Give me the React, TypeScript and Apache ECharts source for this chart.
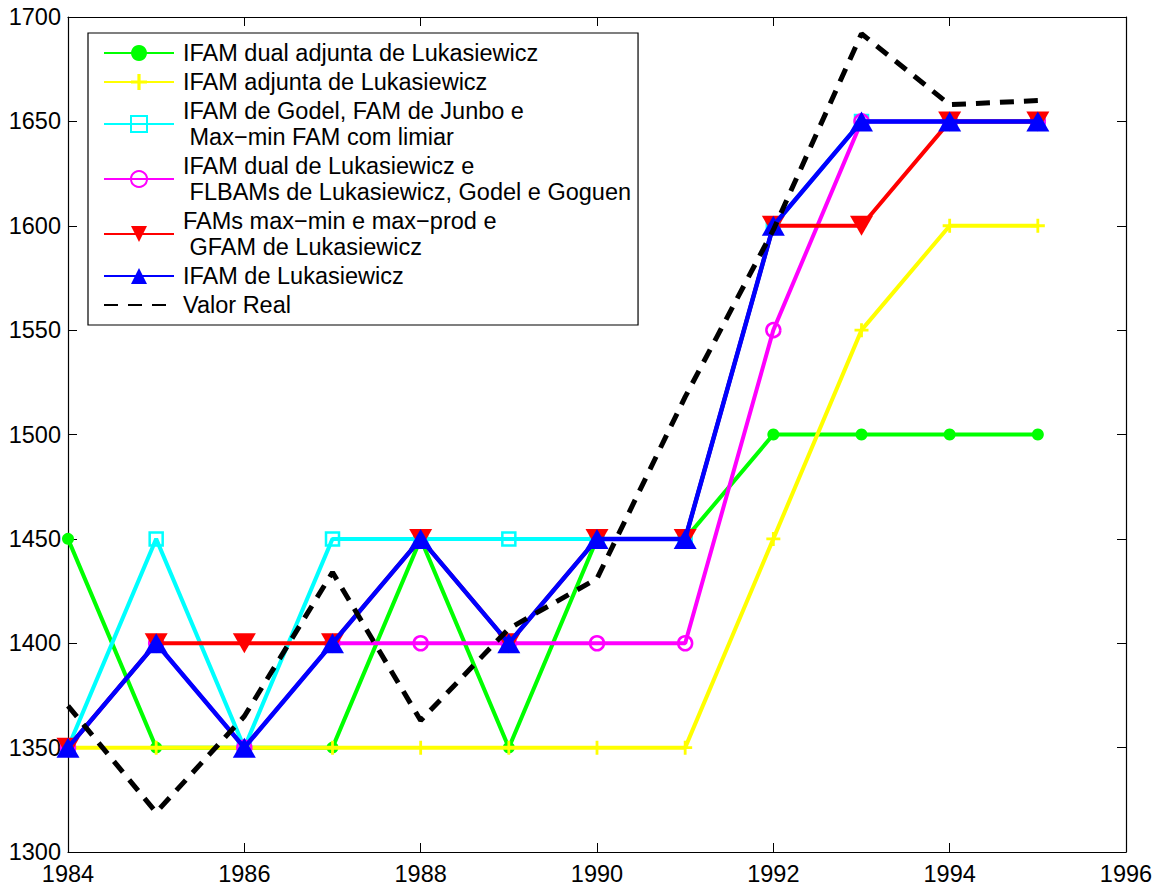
import React, { useEffect, useRef } from "react";
import * as echarts from "echarts";

// Years on the horizontal axis
const years = [1984, 1985, 1986, 1987, 1988, 1989, 1990, 1991, 1992, 1993, 1994, 1995];

// Forecasts of each memory model
const ifamDualAdjuntaLuk = [1450, 1350, 1350, 1350, 1450, 1350, 1450, 1450, 1500, 1500, 1500, 1500];
const ifamAdjuntaLuk = [1350, 1350, 1350, 1350, 1350, 1350, 1350, 1350, 1450, 1550, 1600, 1600];
const ifamGodelJunbo = [1350, 1450, 1350, 1450, 1450, 1450, 1450, 1450, 1600, 1650, 1650, 1650];
const ifamDualLukFlbam = [1350, 1400, 1350, 1400, 1400, 1400, 1400, 1400, 1550, 1650, 1650, 1650];
const famMaxMinProd = [1350, 1400, 1400, 1400, 1450, 1400, 1450, 1450, 1600, 1600, 1650, 1650];
const ifamLuk = [1350, 1400, 1350, 1400, 1450, 1400, 1450, 1450, 1600, 1650, 1650, 1650];
// Actual values
const valorReal = [1370, 1319, 1365, 1434, 1363, 1407, 1431, 1518, 1598, 1692, 1658, 1660];

// Axis ranges
const xMin = 1984;
const xMax = 1996;
const xStep = 2;
const yMin = 1300;
const yMax = 1700;
const yStep = 50;

// Legend labels
const seriesNames = [
  "IFAM dual adjunta de Lukasiewicz",
  "IFAM adjunta de Lukasiewicz",
  "IFAM de Godel, FAM de Junbo e\n Max\u2212min FAM com limiar",
  "IFAM dual de Lukasiewicz e\n FLBAMs de Lukasiewicz, Godel e Goguen",
  "FAMs max\u2212min e max\u2212prod e\n GFAM de Lukasiewicz",
  "IFAM de Lukasiewicz",
  "Valor Real",
];

const FONT = '"Liberation Sans", Arial, Helvetica, sans-serif';
const FONT_SIZE = 23.5;
const PLUS = "path://M4,0H6V4H10V6H6V10H4V6H0V4H4Z";

const pairs = (vals: number[]) => years.map((y, i) => [y, vals[i]]);

function buildOption(): echarts.EChartsOption {
  const lw = 4;
  const base = (i: number) => ({
    type: "line" as const,
    name: seriesNames[i],
    z: 2 + i,
    showAllSymbol: true,
    animation: false,
  });

  const series: any[] = [
    {
      ...base(0),
      data: pairs(ifamDualAdjuntaLuk),
      symbol: "circle",
      symbolSize: 12,
      lineStyle: { color: "#00ff00", width: lw },
      itemStyle: { color: "#00ff00" },
    },
    {
      ...base(1),
      data: pairs(ifamAdjuntaLuk),
      symbol: PLUS,
      symbolSize: 14,
      lineStyle: { color: "#ffff00", width: lw },
      itemStyle: { color: "#ffff00" },
    },
    {
      ...base(2),
      data: pairs(ifamGodelJunbo),
      symbol: "rect",
      symbolSize: 13,
      lineStyle: { color: "#00ffff", width: lw },
      itemStyle: { color: "rgba(0,0,0,0)", borderColor: "#00ffff", borderWidth: 2.5 },
    },
    {
      ...base(3),
      data: pairs(ifamDualLukFlbam),
      symbol: "circle",
      symbolSize: 14,
      lineStyle: { color: "#ff00ff", width: lw },
      itemStyle: { color: "rgba(0,0,0,0)", borderColor: "#ff00ff", borderWidth: 2.5 },
    },
    {
      ...base(4),
      data: pairs(famMaxMinProd),
      symbol: "triangle",
      symbolRotate: 180,
      symbolSize: [23, 20],
      lineStyle: { color: "#ff0000", width: lw },
      itemStyle: { color: "#ff0000" },
    },
    {
      ...base(5),
      data: pairs(ifamLuk),
      symbol: "triangle",
      symbolSize: [23, 20],
      lineStyle: { color: "#0000ff", width: 4.5 },
      itemStyle: { color: "#0000ff" },
    },
    {
      ...base(6),
      data: pairs(valorReal),
      symbol: "none",
      lineStyle: { color: "#000000", width: 5, type: [14, 10] },
      itemStyle: { color: "rgba(0,0,0,0)", opacity: 0 },
    },
  ];

  const axisLine = { show: true, lineStyle: { color: "#000", width: 1.2 } };
  const axisTick = { show: true, inside: true, length: 9, lineStyle: { color: "#000", width: 1 } };
  const label = {
    color: "#000",
    fontFamily: FONT,
    fontSize: FONT_SIZE,
    formatter: (v: number) => String(v),
  };

  return {
    animation: false,
    backgroundColor: "#ffffff",
    textStyle: { fontFamily: FONT },
    grid: { left: 68, right: 30, top: 17, bottom: 34, containLabel: false },
    legend: {
      orient: "vertical",
      left: 88,
      top: 33,
      padding: [7, 7, 7, 15],
      itemWidth: 70,
      itemHeight: 20,
      itemGap: 3,
      backgroundColor: "#ffffff",
      borderColor: "#000",
      borderWidth: 1.2,
      selectedMode: false,
      textStyle: {
        fontFamily: FONT,
        fontSize: FONT_SIZE,
        color: "#000",
        lineHeight: 26,
        padding: [0, 0, 0, 4],
      },
      data: seriesNames,
    },
    xAxis: [
      {
        type: "value",
        min: xMin,
        max: xMax,
        interval: xStep,
        position: "bottom",
        axisLine,
        axisTick,
        splitLine: { show: false },
        axisLabel: { ...label, margin: 10 },
      },
      {
        type: "value",
        min: xMin,
        max: xMax,
        interval: xStep,
        position: "top",
        axisLine,
        axisTick,
        splitLine: { show: false },
        axisLabel: { show: false },
      },
    ],
    yAxis: [
      {
        type: "value",
        min: yMin,
        max: yMax,
        interval: yStep,
        position: "left",
        axisLine,
        axisTick,
        splitLine: { show: false },
        axisLabel: { ...label, margin: 7 },
      },
      {
        type: "value",
        min: yMin,
        max: yMax,
        interval: yStep,
        position: "right",
        axisLine,
        axisTick,
        splitLine: { show: false },
        axisLabel: { show: false },
      },
    ],
    series,
  };
}

export default function App() {
  const ref = useRef<HTMLDivElement>(null);

  useEffect(() => {
    if (!ref.current) return;
    const chart = echarts.init(ref.current, undefined, { renderer: "svg" });
    chart.setOption(buildOption());
    return () => chart.dispose();
  }, []);

  return (
    <div
      ref={ref}
      style={{ position: "absolute", left: 0, top: 0, width: 1156, height: 886, background: "#fff" }}
    />
  );
}
